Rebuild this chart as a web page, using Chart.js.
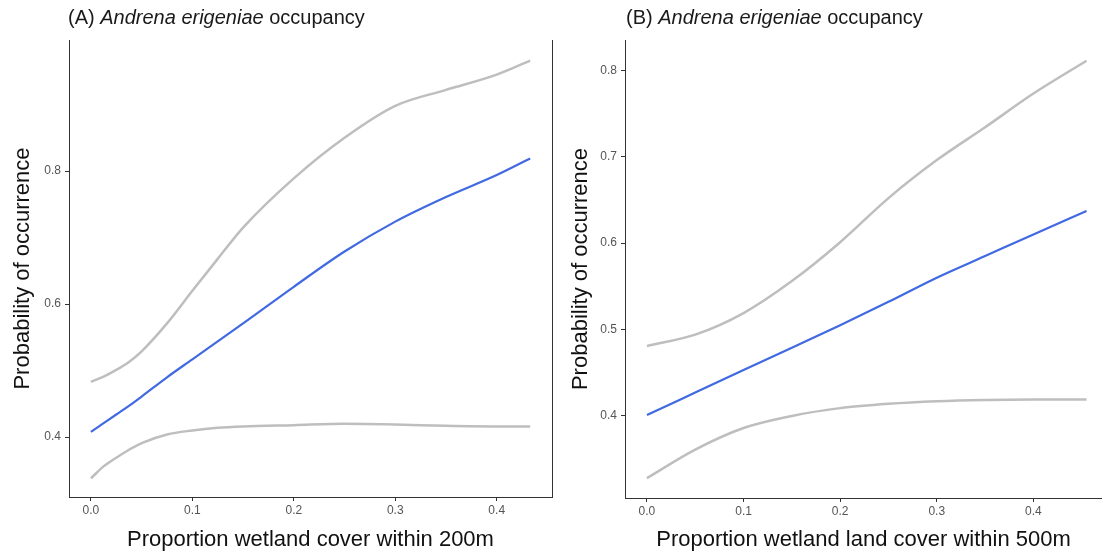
<!DOCTYPE html>
<html>
<head>
<meta charset="utf-8">
<script src="https://cdn.jsdelivr.net/npm/chart.js@4/dist/chart.umd.min.js"></script>
<style>
  body { margin: 0; background: #fff; font-family: "Liberation Sans", Arial, sans-serif; }
  #wrap { position: relative; width: 1102px; height: 556px; overflow: hidden; }
  .panel { position: absolute; top: 0; height: 556px; }
  .ptitle { position: absolute; top: 6px; font-size: 20px; color: #1a1a1a; white-space: nowrap; }
</style>
</head>
<body>
<div id="wrap">
  <div class="panel" style="left:0;width:560px"><canvas id="chartA"></canvas></div>
  <div class="panel" style="left:560px;width:542px"><canvas id="chartB"></canvas></div>
  <div class="ptitle" style="left:68px">(A) <i>Andrena erigeniae</i> occupancy</div>
  <div class="ptitle" style="left:626px">(B) <i>Andrena erigeniae</i> occupancy</div>
</div>
<script>
// Panel A: wetland cover within 200m
const xA = [0, 0.0125, 0.025, 0.0375, 0.05, 0.075, 0.1, 0.125, 0.15, 0.2, 0.25, 0.3, 0.35, 0.4, 0.433];
const fitA = [0.408, 0.421, 0.434, 0.447, 0.461, 0.490, 0.517, 0.544, 0.571, 0.626, 0.679, 0.724, 0.761, 0.794, 0.819];
const upperA = [0.483, 0.491, 0.501, 0.513, 0.529, 0.571, 0.620, 0.668, 0.715, 0.789, 0.850, 0.898, 0.922, 0.945, 0.966];
const lowerA = [0.338, 0.356, 0.369, 0.381, 0.391, 0.404, 0.410, 0.414, 0.416, 0.418, 0.420, 0.419, 0.417, 0.416, 0.416];
const xTicksA = [0, 0.1, 0.2, 0.3, 0.4];
const yTicksA = [0.4, 0.6, 0.8];

// Panel B: wetland land cover within 500m
const xB = [0, 0.05, 0.1, 0.15, 0.2, 0.25, 0.3, 0.35, 0.4, 0.455];
const fitB = [0.401, 0.427, 0.453, 0.479, 0.505, 0.532, 0.560, 0.585, 0.610, 0.637];
const upperB = [0.481, 0.494, 0.519, 0.556, 0.601, 0.652, 0.696, 0.734, 0.773, 0.811];
const lowerB = [0.328, 0.361, 0.386, 0.400, 0.409, 0.414, 0.417, 0.4185, 0.419, 0.419];
const xTicksB = [0, 0.1, 0.2, 0.3, 0.4];
const yTicksB = [0.4, 0.5, 0.6, 0.7, 0.8];

const FONT = '"Liberation Sans", Arial, sans-serif';
const BLUE = '#4169E1';
const GREY = '#BEBEBE';
const AXIS = '#333333';

function pts(xs, ys) {
    return xs.map((x, i) => ({ x: x, y: ys[i] }));
}

function line(xs, ys, color, width) {
    return {
        data: pts(xs, ys),
        borderColor: color,
        borderWidth: width,
        pointRadius: 0,
        fill: false,
        cubicInterpolationMode: 'monotone'
    };
}

// right-hand frame line (only panel A shows it)
const rightBorder = {
    id: 'rightBorder',
    afterDraw(chart, args, opts) {
        if (!opts.show) return;
        const { ctx, chartArea } = chart;
        ctx.save();
        ctx.strokeStyle = AXIS;
        ctx.lineWidth = 1;
        ctx.beginPath();
        ctx.moveTo(chartArea.right + 0.5, chartArea.top);
        ctx.lineTo(chartArea.right + 0.5, chartArea.bottom);
        ctx.stroke();
        ctx.restore();
    }
};

function makeChart(id, cfg) {
    return new Chart(document.getElementById(id), {
        type: 'line',
        data: {
            datasets: [
                line(cfg.x, cfg.upper, GREY, 2.5),
                line(cfg.x, cfg.lower, GREY, 2.5),
                line(cfg.x, cfg.fit, BLUE, 2.2)
            ]
        },
        options: {
            responsive: true,
            maintainAspectRatio: false,
            animation: false,
            layout: { padding: { top: 40, right: cfg.padRight, left: 0, bottom: 0 } },
            plugins: {
                legend: { display: false },
                tooltip: { enabled: false },
                rightBorder: { show: cfg.frame }
            },
            scales: {
                x: {
                    type: 'linear',
                    min: cfg.xMin,
                    max: cfg.xMax,
                    afterBuildTicks: s => { s.ticks = cfg.xTicks.map(v => ({ value: v })); },
                    afterFit: s => { s.height = cfg.xHeight; },
                    grid: { display: true, drawOnChartArea: false, drawTicks: true, tickLength: 4, color: AXIS },
                    border: { display: true, color: AXIS, width: 1 },
                    ticks: {
                        padding: 2,
                        color: '#555',
                        font: { family: FONT, size: 12 },
                        callback: v => v.toFixed(1)
                    },
                    title: {
                        display: true,
                        text: cfg.xTitle,
                        color: '#111',
                        font: { family: FONT, size: 22 },
                        padding: { top: 0, bottom: 3 }
                    }
                },
                y: {
                    min: cfg.yMin,
                    max: cfg.yMax,
                    afterBuildTicks: s => { s.ticks = cfg.yTicks.map(v => ({ value: v })); },
                    afterFit: s => { s.width = cfg.yWidth; },
                    grid: { display: true, drawOnChartArea: false, drawTicks: true, tickLength: 4, color: AXIS },
                    border: { display: true, color: AXIS, width: 1 },
                    ticks: {
                        padding: 4,
                        color: '#555',
                        font: { family: FONT, size: 12 },
                        callback: v => v.toFixed(1)
                    },
                    title: {
                        display: true,
                        text: 'Probability of occurrence',
                        color: '#111',
                        font: { family: FONT, size: 22 },
                        padding: { top: cfg.yTitlePad, bottom: 0 }
                    }
                }
            }
        },
        plugins: [rightBorder]
    });
}

makeChart('chartA', {
    x: xA, fit: fitA, upper: upperA, lower: lowerA,
    xTicks: xTicksA, yTicks: yTicksA,
    xMin: -0.0216, xMax: 0.4545, yMin: 0.31, yMax: 0.997,
    xTitle: 'Proportion wetland cover within 200m',
    yWidth: 69, xHeight: 59, padRight: 8, yTitlePad: 10, frame: true
});

makeChart('chartB', {
    x: xB, fit: fitB, upper: upperB, lower: lowerB,
    xTicks: xTicksB, yTicks: yTicksB,
    xMin: -0.0227, xMax: 0.471, yMin: 0.305, yMax: 0.835,
    xTitle: 'Proportion wetland land cover within 500m',
    yWidth: 65, xHeight: 58, padRight: 0, yTitlePad: 8, frame: false
});
</script>
</body>
</html>
